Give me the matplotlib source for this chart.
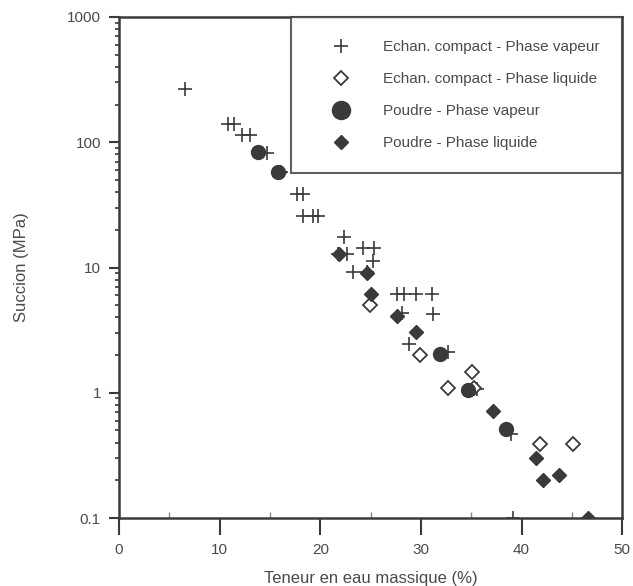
import matplotlib.pyplot as plt
from matplotlib.ticker import LogLocator, NullFormatter

plt.rcParams['font.family'] = ['Liberation Sans', 'DejaVu Sans']

# Echan. compact - Phase vapeur
cv_x = [6.6, 10.8, 11.4, 12.2, 13.0, 14.7, 16.1, 17.7, 18.3, 18.3, 19.3, 19.8, 22.4, 21.8, 22.7,
        24.2, 25.3, 25.2, 23.2, 24.6, 27.6, 28.3, 29.5, 31.1, 28.1, 31.2, 28.8, 32.7, 35.6, 38.9, 39.1]
cv_y = [265, 140, 140, 114, 114, 82, 58, 38.5, 38.5, 25.8, 25.8, 25.8, 17.5, 12.9, 12.8,
        14.3, 14.3, 11.3, 9.2, 9.2, 6.2, 6.2, 6.2, 6.2, 4.3, 4.26, 2.45, 2.1, 1.08, 0.47, 0.1]

# Echan. compact - Phase liquide
cl_x = [24.9, 29.9, 32.7, 35.1, 35.3, 41.8, 45.1]
cl_y = [5.0, 2.0, 1.1, 1.47, 1.1, 0.39, 0.39]

# Poudre - Phase vapeur
pv_x = [13.8, 15.8, 31.9, 34.7, 38.5]
pv_y = [83, 58, 2.05, 1.06, 0.51]

# Poudre - Phase liquide
pl_x = [15.9, 21.9, 24.6, 25.0, 27.6, 29.5, 37.2, 41.4, 42.1, 43.7, 46.6]
pl_y = [58, 12.8, 9.0, 6.2, 4.1, 3.06, 0.72, 0.30, 0.20, 0.22, 0.1]

yticks = [0.1, 1, 10, 100, 1000]
ytick_labels = ['0.1', '1', '10', '100', '1000']

ink = '#3a3a3a'
txt = '#4a4a4a'

fig = plt.figure(figsize=(6.33, 5.86), dpi=100)
ax = fig.add_axes([0.188, 0.116, 0.795, 0.855])

ax.plot(cv_x, cv_y, '+', color=ink, ms=10, mew=1.2, label='Echan. compact - Phase vapeur')
ax.plot(cl_x, cl_y, 'D', color=ink, mfc='white', ms=7, mew=1.3, label='Echan. compact - Phase liquide')
ax.plot(pv_x, pv_y, 'o', color=ink, ms=10, label='Poudre - Phase vapeur')
ax.plot(pl_x, pl_y, 'D', color=ink, ms=7.5, label='Poudre - Phase liquide')

ax.set_yscale('log')
ax.set_xlim(0, 50)
ax.set_ylim(0.1, 1000)
ax.set_xticks(range(0, 51, 10))
ax.set_xticks(range(5, 50, 10), minor=True)
ax.set_yticks(yticks)
ax.set_yticklabels(ytick_labels)
ax.yaxis.set_minor_locator(LogLocator(base=10, subs=range(2, 10)))
ax.yaxis.set_minor_formatter(NullFormatter())

ax.tick_params(axis='x', which='major', direction='out', length=12, width=1.5, color=ink,
               labelsize=11, labelcolor=txt, pad=6)
ax.tick_params(axis='x', which='minor', direction='in', length=4, width=1, color='#888888')
ax.tick_params(axis='y', which='major', direction='out', length=7, width=1.5, color=ink,
               labelsize=11, labelcolor=txt, pad=6)
ax.tick_params(axis='y', which='minor', direction='out', length=3, width=1.2, color=ink)

for s in ax.spines.values():
    s.set_color(ink)
    s.set_linewidth(1.8)

ax.set_xlabel('Teneur en eau massique (%)', fontsize=12, color=txt, labelpad=10)
ax.set_ylabel('Succion (MPa)', fontsize=12, color=txt, labelpad=27)

leg = ax.legend(loc='upper right', bbox_to_anchor=(1.0, 1.0), borderaxespad=0, frameon=True,
                fancybox=False, edgecolor=ink, fontsize=11, labelcolor=txt,
                borderpad=1.5, labelspacing=1.18, handletextpad=1.0, handlelength=3.5)
leg.get_frame().set_linewidth(1.5)
leg.legend_handles[2].set_markersize(13)

fig.savefig('out.png', dpi=100)
